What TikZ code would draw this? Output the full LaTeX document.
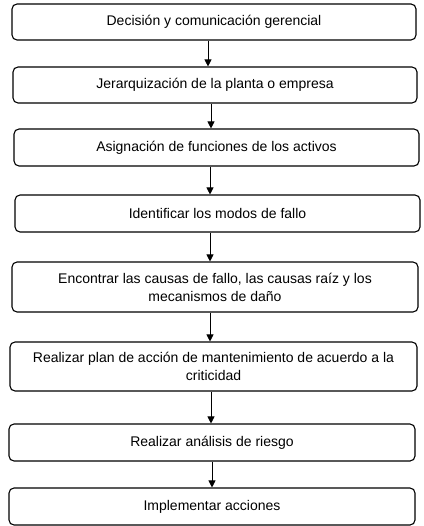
\documentclass[tikz,border=0pt]{standalone}
\usepackage{fontspec}
\setmainfont{Liberation Sans}
\usetikzlibrary{arrows.meta, positioning, calc}

\begin{document}
\begin{tikzpicture}[x=1pt, y=1pt,
    paso/.style={draw, line width=1.1pt, rounded corners=5pt, fill=white,
                 font=\fontsize{14}{18}\selectfont, align=center,
                 inner sep=0pt, minimum height=36pt},
    flecha/.style={-{Triangle[width=7pt,length=7pt]}, line width=0.8pt}]
    % =========================================================
    % CANVAS
    % =========================================================
    \useasboundingbox (0,0) rectangle (423,-526);

    % =========================================================
    % STEPS OF THE PROCESS
    % =========================================================
    \node[paso, minimum width=404pt] (decision) at (214,-22) {Decisión y comunicación gerencial};
    \node[paso, minimum width=404pt] (jerarquia) at (215,-85) {Jerarquización de la planta o empresa};
    \node[paso, minimum width=405pt, minimum height=37pt] (funciones) at (216.5,-147.5) {Asignación de funciones de los activos};
    \node[paso, minimum width=405pt, minimum height=37pt] (modos) at (217.5,-213.5) {Identificar los modos de fallo};
    \node[paso, minimum width=406pt, minimum height=50pt] (causas) at (215,-287) {Encontrar las causas de fallo, las causas raíz y los\\mecanismos de daño};
    \node[paso, minimum width=407pt, minimum height=49pt] (plan) at (213.5,-366.5) {Realizar plan de acción de mantenimiento de acuerdo a la\\criticidad};
    \node[paso, minimum width=406pt, minimum height=37pt] (riesgo) at (212,-442.5) {Realizar análisis de riesgo};
    \node[paso, minimum width=406pt, minimum height=37pt] (acciones) at (212,-506.5) {Implementar acciones};

    % =========================================================
    % CONNECTORS
    % =========================================================
    \draw[flecha] ([xshift=-6pt]decision.south) -- ([xshift=-6pt]decision.south |- jerarquia.north);
    \draw[flecha] ([xshift=-4pt]jerarquia.south) -- ([xshift=-4pt]jerarquia.south |- funciones.north);
    \draw[flecha] ([xshift=-6.5pt]funciones.south) -- ([xshift=-6.5pt]funciones.south |- modos.north);
    \draw[flecha] ([xshift=-7.5pt]modos.south) -- ([xshift=-7.5pt]modos.south |- causas.north);
    \draw[flecha] ([xshift=-5pt]causas.south) -- ([xshift=-5pt]causas.south |- plan.north);
    \draw[flecha] ([xshift=-2.5pt]plan.south) -- ([xshift=-2.5pt]plan.south |- riesgo.north);
    \draw[flecha] (riesgo.south) -- (riesgo.south |- acciones.north);
\end{tikzpicture}
\end{document}
